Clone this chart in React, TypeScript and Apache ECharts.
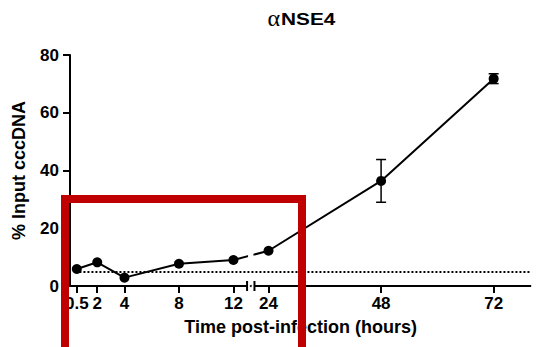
import React, { useEffect, useRef } from "react";
import * as echarts from "echarts";

// ---- data ----
const HOURS = [0.5, 2, 4, 8, 12, 24, 48, 72];
const MEANS = [5.9, 8.2, 2.9, 7.7, 9.0, 12.2, 36.4, 71.8];
const ERRORS = [0, 0, 0, 0, 0, 0, 7.4, 1.7];
const LOD = 5; // dotted detection-limit line
const X_TICKS = [0.5, 2, 4, 8, 12, 24, 48, 72];
const Y_TICKS = [0, 20, 40, 60, 80];
const TITLE_GREEK = "α";
const TITLE_TEXT = "NSE4";
const Y_NAME = "% Input cccDNA";
const X_NAME = "Time post-infection (hours)";

// ---- broken x-axis scale (two segments) ----
const SEG_LEFT: [number, number] = [0, 13];
const SEG_RIGHT: [number, number] = [21, 80];
const UNIT_LEFT = 13.62; // axis units per hour, left segment
const UNIT_RIGHT = 4.69; // axis units per hour, right segment
const BREAK_GAP = 7.4;
const LOD_START = 0.4;

const u = (t: number) =>
  t <= SEG_LEFT[1]
    ? (t - SEG_LEFT[0]) * UNIT_LEFT
    : (SEG_LEFT[1] - SEG_LEFT[0]) * UNIT_LEFT + BREAK_GAP + (t - SEG_RIGHT[0]) * UNIT_RIGHT;

const FONT = "Liberation Sans, Arial, Helvetica, sans-serif";
const BLACK = "#000000";

export default function App() {
  const ref = useRef<HTMLDivElement>(null);

  useEffect(() => {
    if (!ref.current) return;
    const chart = echarts.init(ref.current, null, { renderer: "svg" });
    const xMax = u(SEG_RIGHT[1]);
    const lineData = HOURS.map((h, i) => [u(h), MEANS[i]]);
    const errData = HOURS.map((h, i) => [u(h), MEANS[i] - ERRORS[i], MEANS[i] + ERRORS[i]]).filter(
      (_d, i) => ERRORS[i] > 0
    );

    chart.setOption({
      animation: false,
      backgroundColor: "#ffffff",
      grid: { left: 70, top: 55, width: xMax, bottom: 61, outerBoundsMode: "none" },
      xAxis: {
        type: "value",
        min: 0,
        max: xMax,
        splitLine: { show: false },
        axisLine: { show: false },
        axisTick: {
          show: true,
          length: 7,
          customValues: X_TICKS.map(u),
          lineStyle: { color: BLACK, width: 2 },
        },
        axisLabel: {
          show: true,
          customValues: X_TICKS.map(u),
          margin: 9,
          color: BLACK,
          fontFamily: FONT,
          fontWeight: "bold",
          fontSize: 17,
          formatter: (v: number) => {
            const t = X_TICKS.find((x) => Math.abs(u(x) - v) < 0.01);
            return t === undefined ? "" : String(t);
          },
        },
        name: X_NAME,
        nameLocation: "middle",
        nameGap: 32,
        nameTextStyle: { color: BLACK, fontFamily: FONT, fontWeight: "bold", fontSize: 18 },
      },
      yAxis: {
        type: "value",
        min: Y_TICKS[0],
        max: Y_TICKS[Y_TICKS.length - 1],
        interval: Y_TICKS[1] - Y_TICKS[0],
        splitLine: { show: false },
        axisLine: { show: true, lineStyle: { color: BLACK, width: 2 } },
        axisTick: { show: true, length: 7, lineStyle: { color: BLACK, width: 2 } },
        axisLabel: { margin: 11, color: BLACK, fontFamily: FONT, fontWeight: "bold", fontSize: 17 },
        name: Y_NAME,
        nameLocation: "middle",
        nameGap: 42,
        nameTextStyle: { color: BLACK, fontFamily: FONT, fontWeight: "bold", fontSize: 18 },
      },
      series: [
        {
          type: "line",
          data: lineData,
          symbol: "circle",
          symbolSize: 10,
          itemStyle: { color: BLACK },
          lineStyle: { color: BLACK, width: 2 },
          z: 3,
          markLine: {
            silent: true,
            symbol: "none",
            label: { show: false },
            lineStyle: { color: BLACK, width: 2, type: [2, 2] },
            data: [[{ coord: [u(LOD_START), LOD] }, { coord: [xMax, LOD] }]],
          },
        },
        {
          type: "custom",
          data: errData,
          z: 4,
          renderItem: (_params: any, api: any) => {
            const x = api.value(0);
            const lo = api.coord([x, api.value(1)]);
            const hi = api.coord([x, api.value(2)]);
            const cap = 5;
            const style = { stroke: BLACK, lineWidth: 1.5 };
            return {
              type: "group",
              children: [
                { type: "line", shape: { x1: lo[0], y1: lo[1], x2: hi[0], y2: hi[1] }, style },
                { type: "line", shape: { x1: lo[0] - cap, y1: lo[1], x2: lo[0] + cap, y2: lo[1] }, style },
                { type: "line", shape: { x1: hi[0] - cap, y1: hi[1], x2: hi[0] + cap, y2: hi[1] }, style },
              ],
            };
          },
        },
      ],
    });

    // broken x-axis line, break marks, and gap in the data line at the break
    const p = (x: number, y: number) => chart.convertToPixel({ gridIndex: 0 }, [x, y]) as number[];
    const a0 = p(0, 0);
    const a1 = p(u(SEG_LEFT[1]), 0);
    const b0 = p(u(SEG_RIGHT[0]), 0);
    const b1 = p(xMax, 0);
    const maskTop = p(0, 14)[1];
    const maskBot = p(0, 7)[1];
    const ax = { stroke: BLACK, lineWidth: 2 };
    chart.setOption({
      graphic: [
        {
          type: "text",
          z: 60,
          x: 280,
          y: 18,
          style: {
            text: TITLE_GREEK,
            font: "normal 24px serif",
            fill: BLACK,
            align: "right",
            verticalAlign: "middle",
          },
        },
        {
          type: "text",
          z: 60,
          x: 281,
          y: 19,
          scaleX: 1.3,
          style: {
            text: TITLE_TEXT,
            font: "bold 16px sans-serif",
            fill: BLACK,
            align: "left",
            verticalAlign: "middle",
          },
        },
        { type: "rect", z: 50, shape: { x: a1[0] + 1, y: maskTop, width: b0[0] - a1[0] - 2, height: maskBot - maskTop }, style: { fill: "#ffffff" } },
        { type: "line", z: 60, shape: { x1: a0[0] - 1, y1: a0[1], x2: a1[0], y2: a1[1] }, style: ax },
        { type: "line", z: 60, shape: { x1: a1[0], y1: a1[1] - 5, x2: a1[0], y2: a1[1] + 5 }, style: ax },
        { type: "circle", z: 60, shape: { cx: (a1[0] + b0[0]) / 2, cy: a1[1], r: 1 }, style: { fill: BLACK } },
        { type: "line", z: 60, shape: { x1: b0[0], y1: b0[1] - 5, x2: b0[0], y2: b0[1] + 5 }, style: ax },
        { type: "line", z: 60, shape: { x1: b0[0], y1: b0[1], x2: b1[0], y2: b1[1] }, style: ax },
        {
          type: "rect",
          z: 100,
          shape: { x: 65, y: 199, width: 237, height: 200 },
          style: { fill: "none", stroke: "#c00000", lineWidth: 8 },
        },
      ],
    });

    return () => chart.dispose();
  }, []);

  return <div ref={ref} style={{ position: "absolute", left: 0, top: 0, width: 539, height: 347 }} />;
}
